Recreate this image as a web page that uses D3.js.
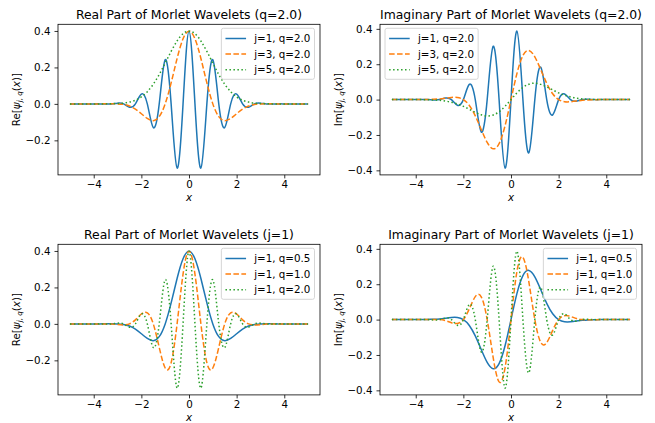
<!DOCTYPE html>
<html>
<head>
<meta charset="utf-8">
<script src="https://cdn.jsdelivr.net/npm/d3@7"></script>
<style>
  body { margin: 0; background: #fff; }
  svg { display: block; font-family: "DejaVu Sans", sans-serif; }
</style>
</head>
<body>
<svg id="s" width="655" height="423"></svg>
<script>
// sample positions along x, read every 0.25
const xs = [-5, -4.75, -4.5, -4.25, -4, -3.75, -3.5, -3.25, -3, -2.75, -2.5, -2.25, -2, -1.75, -1.5, -1.25, -1, -0.75, -0.5, -0.25,
  0, 0.25, 0.5, 0.75, 1, 1.25, 1.5, 1.75, 2, 2.25, 2.5, 2.75, 3, 3.25, 3.5, 3.75, 4, 4.25, 4.5, 4.75, 5];

// values (one per xs entry)
const reJ1Q2 = [0, 0, 0, 0, 0, 0, -0.001, 0, 0.004, 0, -0.018, 0, 0.054, 0, -0.130, 0, 0.242, 0, -0.352, 0,
  0.399, 0, -0.352, 0, 0.242, 0, -0.130, 0, 0.054, 0, -0.018, 0, 0.004, 0, -0.001, 0, 0, 0, 0, 0, 0];
const imJ1Q2 = [0, 0, 0, 0, 0, 0, 0, -0.002, 0, 0.009, 0, -0.032, 0, 0.086, 0, -0.183, 0, 0.301, 0, -0.387,
  0, 0.387, 0, -0.301, 0, 0.183, 0, -0.086, 0, 0.032, 0, -0.009, 0, 0.002, 0, 0, 0, 0, 0, 0, 0];
const reJ1Q1 = [0, 0, 0, 0, 0, 0, 0, -0.001, -0.004, -0.006, 0, 0.022, 0.054, 0.061, 0, -0.129, -0.242, -0.213, 0, 0.273,
  0.399, 0.273, 0, -0.213, -0.242, -0.129, 0, 0.061, 0.054, 0.022, 0, -0.006, -0.004, -0.001, 0, 0, 0, 0, 0, 0, 0];
const imJ1Q1 = [0, 0, 0, 0, 0, 0, 0.001, 0.001, 0, -0.006, -0.018, -0.022, 0, 0.061, 0.130, 0.129, 0, -0.213, -0.352, -0.273,
  0, 0.273, 0.352, 0.213, 0, -0.129, -0.130, -0.061, 0, 0.022, 0.018, 0.006, 0, -0.001, -0.001, 0, 0, 0, 0, 0, 0];
const reJ1Q05 = [0, 0, 0, 0, 0, 0, 0.001, 0.001, 0, -0.003, -0.012, -0.029, -0.054, -0.080, -0.092, -0.070, 0, 0.115, 0.249, 0.357,
  0.399, 0.357, 0.249, 0.115, 0, -0.070, -0.092, -0.080, -0.054, -0.029, -0.012, -0.003, 0, 0.001, 0.001, 0, 0, 0, 0, 0, 0];
const imJ1Q05 = [0, 0, 0, 0, 0, 0, 0.001, 0.002, 0.004, 0.008, 0.012, 0.012, 0, -0.033, -0.092, -0.169, -0.242, -0.278, -0.249, -0.148,
  0, 0.148, 0.249, 0.278, 0.242, 0.169, 0.092, 0.033, 0, -0.012, -0.012, -0.008, -0.004, -0.002, -0.001, 0, 0, 0, 0, 0, 0];
// j=3, q=2.0 draws the same curve as j=1, q=0.5
const reJ3Q2 = reJ1Q05;
const imJ3Q2 = imJ1Q05;
const reJ5Q2 = [0, 0, 0, 0, 0, 0, 0, 0.001, 0.002, 0.004, 0.010, 0.020, 0.038, 0.067, 0.108, 0.161, 0.224, 0.288, 0.345, 0.385,
  0.399, 0.385, 0.345, 0.288, 0.224, 0.161, 0.108, 0.067, 0.038, 0.020, 0.010, 0.004, 0.002, 0.001, 0, 0, 0, 0, 0, 0, 0];
const imJ5Q2 = [0, 0, 0, 0, 0, 0, -0.001, -0.002, -0.004, -0.008, -0.015, -0.025, -0.038, -0.055, -0.072, -0.086, -0.093, -0.087, -0.069, -0.038,
  0, 0.038, 0.069, 0.087, 0.093, 0.086, 0.072, 0.055, 0.038, 0.025, 0.015, 0.008, 0.004, 0.002, 0.001, 0, 0, 0, 0, 0, 0];

const labelsByJ = ['j=1, q=2.0', 'j=3, q=2.0', 'j=5, q=2.0'];
const labelsByQ = ['j=1, q=0.5', 'j=1, q=1.0', 'j=1, q=2.0'];

const colors = ['#1f77b4', '#ff7f0e', '#2ca02c'];
const dashes = [null, '5.55,2.4', '1.5,2.48'];
const fs = 10.3;

const panels = [
  { left: 58, top: 24.3, title: 'Real Part of Morlet Wavelets (q=2.0)', part: 'Re', corner: 'right',
    series: [reJ1Q2, reJ3Q2, reJ5Q2], labels: labelsByJ },
  { left: 380, top: 24.3, title: 'Imaginary Part of Morlet Wavelets (q=2.0)', part: 'Im', corner: 'left',
    series: [imJ1Q2, imJ3Q2, imJ5Q2], labels: labelsByJ },
  { left: 58, top: 244.3, title: 'Real Part of Morlet Wavelets (j=1)', part: 'Re', corner: 'right',
    series: [reJ1Q05, reJ1Q1, reJ1Q2], labels: labelsByQ },
  { left: 380, top: 244.3, title: 'Imaginary Part of Morlet Wavelets (j=1)', part: 'Im', corner: 'right',
    series: [imJ1Q05, imJ1Q1, imJ1Q2], labels: labelsByQ },
];
const W = 262;
const H = 150.6;

const svg = d3.select('#s');

panels.forEach(p => {
  const bottom = p.top + H;
  const x = d3.scaleLinear().domain([-5.5, 5.5]).range([p.left, p.left + W]);
  const [lo, hi] = d3.extent(p.series.flat());
  const pad = (hi - lo) * 0.05;
  const y = d3.scaleLinear().domain([lo - pad, hi + pad]).range([bottom, p.top]);
  const g = svg.append('g');

  const line = d3.line()
    .x((d, i) => x(xs[i]))
    .y(d => y(d))
    .curve(d3.curveNatural);

  g.selectAll('path.curve')
    .data(p.series)
    .join('path')
    .attr('class', 'curve')
    .attr('d', line)
    .attr('fill', 'none')
    .attr('stroke', (d, i) => colors[i])
    .attr('stroke-width', 1.5)
    .attr('stroke-dasharray', (d, i) => dashes[i]);

  const xAxis = g.append('g')
    .attr('transform', `translate(0,${bottom})`)
    .call(d3.axisBottom(x).ticks(5).tickSize(3.5).tickSizeOuter(0).tickPadding(2).tickFormat(d3.format('d')));
  const yAxis = g.append('g')
    .attr('transform', `translate(${p.left},0)`)
    .call(d3.axisLeft(y).ticks(5).tickSize(3.5).tickSizeOuter(0).tickPadding(4).tickFormat(d3.format('.1f')));
  [xAxis, yAxis].forEach(a => {
    a.attr('font-size', fs).attr('font-family', null);
    a.select('.domain').remove();
    a.selectAll('line').attr('stroke-width', 0.8);
  });

  g.append('rect')
    .attr('x', p.left).attr('y', p.top)
    .attr('width', W).attr('height', H)
    .attr('fill', 'none')
    .attr('stroke', '#000')
    .attr('stroke-width', 0.8);

  g.append('text')
    .attr('x', p.left + W / 2).attr('y', p.top - 5.5)
    .attr('text-anchor', 'middle')
    .attr('font-size', 12.4)
    .text(p.title);

  g.append('text')
    .attr('x', p.left + W / 2).attr('y', bottom + 26)
    .attr('text-anchor', 'middle')
    .attr('font-size', fs)
    .attr('font-style', 'italic')
    .text('x');

  const yl = g.append('text')
    .attr('transform', `translate(${p.left - 41.5},${p.top + H / 2}) rotate(-90)`)
    .attr('text-anchor', 'middle')
    .attr('dy', '0.3em')
    .attr('font-size', fs);
  yl.append('tspan').text(p.part + '[');
  yl.append('tspan').attr('font-style', 'italic').text('ψ');
  yl.append('tspan').attr('font-style', 'italic').attr('font-size', 7.2).attr('dy', 2.6).text('j, q');
  yl.append('tspan').attr('dy', -2.6).text('(');
  yl.append('tspan').attr('font-style', 'italic').text('x');
  yl.append('tspan').text(')]');

  // legend
  const lg = g.append('g');
  const box = lg.append('rect');
  const texts = lg.selectAll('text')
    .data(p.labels)
    .join('text')
    .attr('font-size', fs)
    .attr('dy', '0.35em')
    .text(d => d);
  const tw = d3.max(texts.nodes(), n => n.getComputedTextLength());
  const bw = 4.1 + 20.6 + 8.2 + tw + 4.1;
  const bh = 51;
  const bx = p.corner === 'right' ? p.left + W - 5.5 - bw : p.left + 5;
  const by = p.top + 4;
  box.attr('x', bx).attr('y', by).attr('width', bw).attr('height', bh)
    .attr('rx', 2)
    .attr('fill', '#fff').attr('fill-opacity', 0.8)
    .attr('stroke', '#cccccc').attr('stroke-width', 0.8);
  texts.attr('x', bx + 32.9).attr('y', (d, i) => by + 10.2 + i * 15.6);
  lg.selectAll('line')
    .data(p.labels)
    .join('line')
    .attr('x1', bx + 4.1).attr('x2', bx + 24.7)
    .attr('y1', (d, i) => by + 10.2 + i * 15.6)
    .attr('y2', (d, i) => by + 10.2 + i * 15.6)
    .attr('stroke', (d, i) => colors[i])
    .attr('stroke-width', 1.5)
    .attr('stroke-dasharray', (d, i) => dashes[i]);
});
</script>
</body>
</html>
